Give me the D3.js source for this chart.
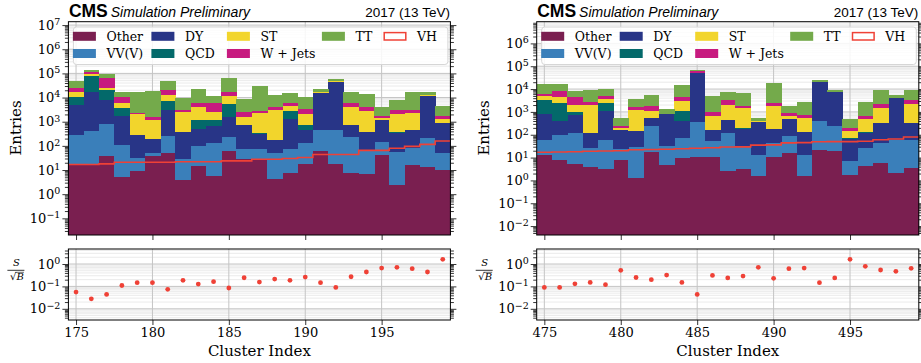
<!DOCTYPE html>
<html>
<head>
<meta charset="utf-8">
<script src="https://cdn.jsdelivr.net/npm/d3@7"></script>
<style>
  html, body { margin: 0; padding: 0; background: #fff; }
  svg { display: block; }
</style>
</head>
<body>
<svg id="chart" width="921" height="363"></svg>
<script>
// ---- data ----
const processes = ["Other", "VV(V)", "DY", "QCD", "ST", "W + Jets", "TT"];
const processColors = ["#7a1f50", "#3a7fba", "#283587", "#03696a", "#f2d52c", "#c71a7f", "#74aa4b"];

const leftClusters = [175,176,177,178,179,180,181,182,183,184,185,186,187,188,189,190,191,192,193,194,195,196,197,198,199];
const leftXTicks = [175, 180, 185, 190, 195];
const leftOther = [18,18,38,5.1,8.7,38,52,3.7,15,5.6,62,28,27,4.3,7.6,18,62,18,7.6,6.8,42,2.4,16,13,10];
const leftVV = [272,392,752,102,23,14,208,25,87,124,163,44,47,48,66,114,398,442,227,57,103,53,67,197,40];
const leftDY = [4710,16590,7210,1593,248,138,2840,361,398,530,1275,648,246,123,1226,328,15040,41540,485,306,1025,285,377,11290,800];
const leftQCD = [5500,63000,12000,2000,0,0,4200,0,670,510,3900,20,10,0,1400,270,0,0,20,0,0,30,0,0,50];
const leftST = [6500,12000,6000,2200,1720,980,5300,2210,2930,1330,6100,810,1970,2925,1900,1370,2000,6000,3360,2530,230,1730,1840,1500,400];
const leftWJets = [7500,18000,38000,4600,300,330,7400,500,1800,3400,5500,950,400,1000,1300,1200,300,500,1800,1200,300,900,700,200,400];
const leftTT = [22000,28000,30000,6500,14700,17500,28000,6600,16100,6100,47000,6400,27300,8500,9600,7200,4700,10500,11100,9900,2400,4900,14000,3800,2800];
const leftVH = [17,17,18,21,21,21,21,22,22,22,24,24,28,28,30,33,44,44,44,65,65,80,95,115,158];
const leftSig = [0.056,0.028,0.044,0.11,0.146,0.146,0.074,0.186,0.127,0.162,0.085,0.244,0.156,0.213,0.186,0.26,0.146,0.090,0.27,0.44,0.66,0.71,0.62,0.44,1.62];

const rightClusters = [475,476,477,478,479,480,481,482,483,484,485,486,487,488,489,490,491,492,493,494,495,496,497,498,499];
const rightXTicks = [475, 480, 485, 490, 495];
const rightOther = [13,7.8,5.3,3.8,3.2,8,1.25,17,4.7,9.6,10.5,10.5,2.6,3.2,1.55,10.5,16,1.55,21,19,1.7,4.3,5.8,2.1,3.5];
const rightVV = [46,90,113,22,56,15,28,223,27,61,345,41,115,26,12,34,71,12,379,221,5.4,22,38,57,56];
const rightDY = [771,302,612,92,1041,137,116,300,778,329,49600,108,317,149,341,134,403,118,19600,7160,57,89,281,4040,266];
const rightQCD = [2370,2000,250,0,1300,0,0,20,0,700,0,0,0,17,0,0,0,0,0,0,7,11,0,0,0];
const rightST = [1700,2100,1020,1880,1300,35,1055,540,0,1900,600,500,1565,1305,45,1620,170,408,0,0,74,364,1175,0,1875];
const rightWJets = [1100,3700,2500,700,1200,45,400,700,0,1500,8400,320,1300,300,0,600,230,190,0,0,50,170,700,0,1100];
const rightTT = [10500,8300,3700,6400,5100,300,2100,3700,490,10500,9000,3900,4100,4800,140,15600,910,1970,5000,1700,295,2040,6900,1400,5800];
const rightVH = [17,17.5,18,19,19.5,20,22,22.5,23,24.5,25.5,27,29,29.5,35,36,44,45,49,50,50,52,60,65,80];
const rightSig = [0.09,0.09,0.13,0.15,0.12,0.52,0.25,0.20,0.32,0.15,0.044,0.31,0.24,0.29,0.71,0.23,0.62,0.66,0.146,0.24,1.62,0.79,0.54,0.47,0.64];

// ---- layout ----
const TOP_T = 21.7, TOP_B = 235, RAT_T = 249, RAT_B = 320;
const SERIF = "'DejaVu Serif', serif";
const SANS = "'Liberation Sans', Arial, sans-serif";
const VH_COLOR = "#ef4136";

const svg = d3.select("#chart");

function minorsFor(domain) {
  const out = [];
  const lo = Math.floor(Math.log10(domain[0])), hi = Math.ceil(Math.log10(domain[1]));
  for (let e = lo; e <= hi; e++) {
    for (let m = 2; m <= 9; m++) {
      const v = m * Math.pow(10, e);
      if (v >= domain[0] && v <= domain[1]) out.push(v);
    }
  }
  return out;
}
function majorsFor(domain) {
  const out = [];
  for (let e = Math.ceil(Math.log10(domain[0])); e <= Math.floor(Math.log10(domain[1])); e++) out.push(Math.pow(10, e));
  return out;
}

// 10^n labels with superscript
function powLabels(sel) {
  sel.selectAll(".tick text").each(function (d) {
    const e = Math.round(Math.log10(d));
    const t = d3.select(this);
    t.text(null);
    t.append("tspan").text("10");
    t.append("tspan").attr("dy", "-0.5em").attr("font-size", "9.5px")
      .text(e < 0 ? "\u2212" + (-e) : String(e));
  });
}

function styleAxis(g) {
  g.select(".domain").remove();
  g.attr("font-family", SERIF).attr("font-size", 13);
  g.selectAll(".tick line").attr("stroke", "#000").attr("stroke-width", 0.8);
  g.selectAll(".tick text").attr("fill", "#000");
}

function logAxes(g, y, left, right, majors, minors, labels) {
  const aL = g.append("g").attr("transform", `translate(${left},0)`)
    .call(d3.axisLeft(y).tickValues(majors).tickSize(6).tickPadding(2));
  styleAxis(aL);
  if (labels) powLabels(aL); else aL.selectAll(".tick text").remove();
  styleAxis(g.append("g").attr("transform", `translate(${left},0)`)
    .call(d3.axisLeft(y).tickValues(minors).tickSize(3.5).tickFormat("")));
  styleAxis(g.append("g").attr("transform", `translate(${right},0)`)
    .call(d3.axisRight(y).tickValues(majors).tickSize(6).tickFormat("")));
  styleAxis(g.append("g").attr("transform", `translate(${right},0)`)
    .call(d3.axisRight(y).tickValues(minors).tickSize(3.5).tickFormat("")));
}

function grid(g, x, y, xTicks, majors, minors, left, right, top, bottom) {
  g.append("g").selectAll("line").data(minors).join("line")
    .attr("x1", left).attr("x2", right)
    .attr("y1", d => y(d)).attr("y2", d => y(d))
    .attr("stroke", "#e4e4e4").attr("stroke-width", 0.8);
  g.append("g").selectAll("line").data(majors).join("line")
    .attr("x1", left).attr("x2", right)
    .attr("y1", d => y(d)).attr("y2", d => y(d))
    .attr("stroke", "#c4c4c4").attr("stroke-width", 1);
  g.append("g").selectAll("line").data(xTicks).join("line")
    .attr("x1", d => x(d)).attr("x2", d => x(d))
    .attr("y1", top).attr("y2", bottom)
    .attr("stroke", "#c4c4c4").attr("stroke-width", 1);
}

function drawPanel(cfg) {
  const g = svg.append("g");
  const n = cfg.clusters.length;
  const x = d3.scaleLinear()
    .domain([cfg.clusters[0] - 0.5, cfg.clusters[n - 1] + 0.5])
    .range([cfg.left, cfg.right]);
  const y = d3.scaleLog().domain(cfg.yDomain).range([TOP_B, TOP_T]);
  const r = d3.scaleLog().domain(cfg.rDomain).range([RAT_B, RAT_T]);

  // ---- top panel ----
  const yMaj = majorsFor(cfg.yDomain), yMin = minorsFor(cfg.yDomain);
  grid(g, x, y, cfg.xTicks, yMaj, yMin, cfg.left, cfg.right, TOP_T, TOP_B);

  const rows = cfg.clusters.map((c, i) => {
    const o = { cluster: c };
    processes.forEach((p, k) => { o[p] = cfg.series[k][i]; });
    return o;
  });
  const stacked = d3.stack().keys(processes)(rows);
  const yLo = cfg.yDomain[0];
  const layers = g.append("g").attr("shape-rendering", "crispEdges");
  stacked.forEach((layer, k) => {
    layers.append("g").attr("fill", processColors[k])
      .selectAll("rect").data(layer).join("rect")
      .attr("x", d => x(d.data.cluster - 0.5))
      .attr("width", d => x(d.data.cluster + 0.5) - x(d.data.cluster - 0.5) + 0.5)
      .attr("y", d => y(Math.max(d[1], yLo)))
      .attr("height", d => Math.max(0, y(Math.max(d[0], yLo)) - y(Math.max(d[1], yLo))));
  });

  // VH step line
  const pts = cfg.clusters.map((c, i) => [c - 0.5, cfg.vh[i]]);
  pts.push([cfg.clusters[n - 1] + 0.5, cfg.vh[n - 1]]);
  g.append("path")
    .attr("d", d3.line().x(d => x(d[0])).y(d => y(d[1])).curve(d3.curveStepAfter)(pts))
    .attr("fill", "none").attr("stroke", VH_COLOR).attr("stroke-width", 1.6);

  // frame + axes
  logAxes(g, y, cfg.left, cfg.right, yMaj, yMin, true);
  styleAxis(g.append("g").attr("transform", `translate(0,${TOP_B})`)
    .call(d3.axisBottom(x).tickValues(cfg.xTicks).tickSize(5).tickFormat("")));
  g.append("rect").attr("x", cfg.left).attr("y", TOP_T)
    .attr("width", cfg.right - cfg.left).attr("height", TOP_B - TOP_T)
    .attr("fill", "none").attr("stroke", "#000").attr("stroke-width", 1);

  // legend
  const lg = g.append("g").attr("font-family", SERIF).attr("font-size", 12.5);
  lg.append("rect").attr("x", cfg.left + 5).attr("y", 27)
    .attr("width", cfg.right - cfg.left - 7.5).attr("height", 37.5).attr("rx", 3)
    .attr("fill", "#fff").attr("fill-opacity", 0.85).attr("stroke", "#d6d6d6");
  const entries = processes.concat(["VH"]);
  const colX = [4.5, 83, 158.5, 253.5, 315];
  entries.forEach((name, i) => {
    const col = i < 6 ? Math.floor(i / 2) : i - 3;
    const row = i < 6 ? i % 2 : 0;
    const px = cfg.left + colX[col], py = 31.8 + row * 17.2;
    if (name === "VH") {
      lg.append("rect").attr("x", px + 0.8).attr("y", py + 0.8).attr("width", 21.6).attr("height", 7.4)
        .attr("fill", "none").attr("stroke", VH_COLOR).attr("stroke-width", 1.5);
    } else {
      lg.append("rect").attr("x", px).attr("y", py).attr("width", 23).attr("height", 9)
        .attr("fill", processColors[i]);
    }
    lg.append("text").attr("x", px + 33.5).attr("y", py + 8.8).text(name);
  });

  // ---- ratio panel ----
  const rMaj = majorsFor(cfg.rDomain), rMin = minorsFor(cfg.rDomain);
  grid(g, x, r, cfg.xTicks, rMaj, rMin, cfg.left, cfg.right, RAT_T, RAT_B);
  g.append("g").selectAll("circle").data(cfg.clusters).join("circle")
    .attr("cx", d => x(d)).attr("cy", (d, i) => r(cfg.sig[i])).attr("r", 2.4)
    .attr("fill", VH_COLOR);
  logAxes(g, r, cfg.left, cfg.right, rMaj, rMin, true);
  const xa = g.append("g").attr("transform", `translate(0,${RAT_B})`)
    .call(d3.axisBottom(x).tickValues(cfg.xTicks).tickSize(5).tickPadding(3));
  styleAxis(xa);
  g.append("rect").attr("x", cfg.left).attr("y", RAT_T)
    .attr("width", cfg.right - cfg.left).attr("height", RAT_B - RAT_T)
    .attr("fill", "none").attr("stroke", "#000").attr("stroke-width", 1);

  // labels
  g.append("text").attr("x", (cfg.left + cfg.right) / 2).attr("y", 356)
    .attr("text-anchor", "middle").attr("font-family", SERIF).attr("font-size", 15)
    .text("Cluster Index");
  g.append("text").attr("transform", `translate(${cfg.left - 53},128) rotate(-90)`)
    .attr("text-anchor", "middle").attr("dy", "0.35em")
    .attr("font-family", SERIF).attr("font-size", 15).text("Entries");

  // S / sqrt(B)
  const fx = cfg.left - 64;
  const fr = g.append("g").attr("font-family", SERIF).attr("font-style", "italic").attr("font-size", 10);
  fr.append("text").attr("x", fx + 12).attr("y", 266.3).attr("text-anchor", "middle").text("S");
  fr.append("line").attr("x1", fx + 3).attr("x2", fx + 20).attr("y1", 270.3).attr("y2", 270.3)
    .attr("stroke", "#000").attr("stroke-width", 0.8);
  fr.append("text").attr("x", fx + 5.5).attr("y", 280).attr("font-style", "normal").text("\u221A");
  fr.append("text").attr("x", fx + 12).attr("y", 280).text("B");
  fr.append("line").attr("x1", fx + 11).attr("x2", fx + 19.5).attr("y1", 272.3).attr("y2", 272.3)
    .attr("stroke", "#000").attr("stroke-width", 0.6);

  // CMS header
  const hd = g.append("text").attr("x", cfg.left + 0.5).attr("y", 16.8).attr("font-family", SANS);
  hd.append("tspan").attr("font-weight", "bold").attr("font-size", 17.5).text("CMS");
  hd.append("tspan").attr("dx", 3).attr("font-style", "italic").attr("font-size", 14).text("Simulation Preliminary");
  g.append("text").attr("x", cfg.right - 0.5).attr("y", 17.2).attr("text-anchor", "end")
    .attr("font-family", SANS).attr("font-size", 13.5).text("2017 (13 TeV)");
}

drawPanel({
  left: 68.4, right: 450.4,
  clusters: leftClusters, xTicks: leftXTicks,
  series: [leftOther, leftVV, leftDY, leftQCD, leftST, leftWJets, leftTT],
  vh: leftVH, sig: leftSig,
  yDomain: [Math.pow(10, -1.69), Math.pow(10, 7.14)],
  rDomain: [Math.pow(10, -2.5), Math.pow(10, 0.67)]
});
drawPanel({
  left: 536.7, right: 918.8,
  clusters: rightClusters, xTicks: rightXTicks,
  series: [rightOther, rightVV, rightDY, rightQCD, rightST, rightWJets, rightTT],
  vh: rightVH, sig: rightSig,
  yDomain: [Math.pow(10, -2.39), Math.pow(10, 6.95)],
  rDomain: [Math.pow(10, -2.5), Math.pow(10, 0.67)]
});
</script>
</body>
</html>
